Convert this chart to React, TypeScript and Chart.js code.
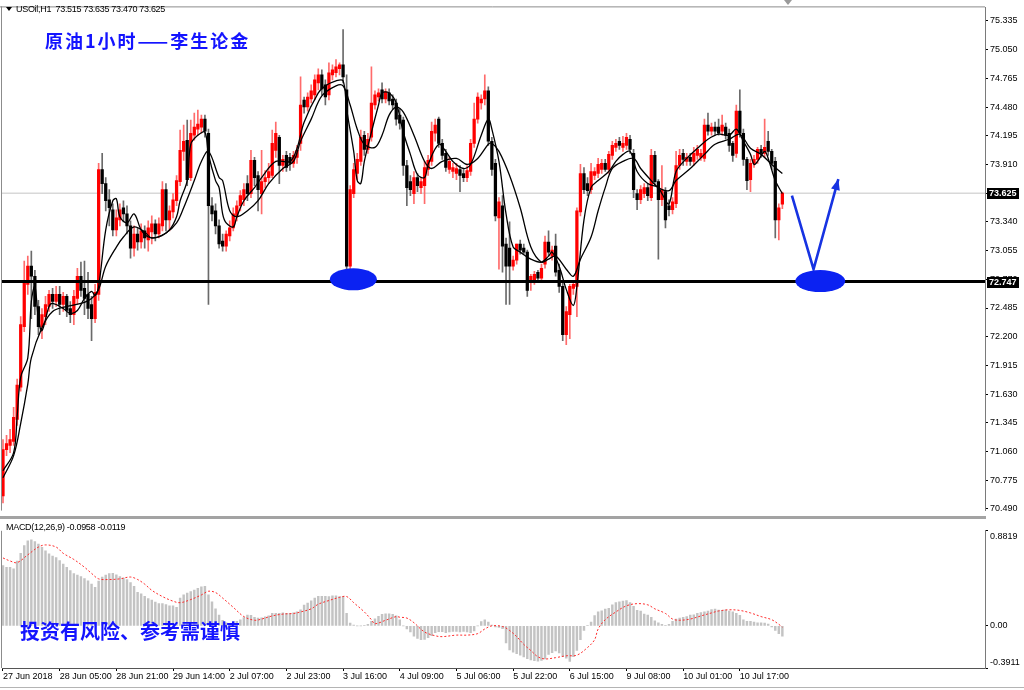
import React, { useEffect, useRef } from "react";
import { Chart, registerables } from "chart.js";

Chart.register(...registerables);

// ---------- price data (H1 candles) ----------
const opens = [
  70.62, 71.08, 71.12, 71.16, 71.38, 71.70, 72.30, 72.72, 72.90, 72.80,
  72.50, 72.30, 72.40, 72.50, 72.62, 72.55, 72.62, 72.52, 72.60, 72.48,
  72.42, 72.58, 72.80, 72.68, 72.62, 72.52, 72.38, 72.62, 73.86, 73.72,
  73.56, 73.46, 73.26, 73.36, 73.48, 73.42, 73.30, 73.08, 73.22, 73.14,
  73.25, 73.16, 73.24, 73.32, 73.22, 73.30, 73.66, 73.36, 73.44, 73.55,
  73.74, 74.04, 74.15, 73.78, 74.20, 74.26, 74.28, 74.36, 74.22, 73.50,
  73.45, 73.30, 73.15, 73.10, 73.20, 73.28, 73.40, 73.50, 73.56, 73.72,
  73.62, 73.95, 73.80, 73.62, 73.74, 73.78, 73.80, 74.05, 74.18, 73.90,
  74.00, 73.98, 73.92, 73.98, 74.12, 74.55, 74.48, 74.56, 74.60, 74.72,
  74.80, 74.70, 74.60, 74.80, 74.82, 74.86, 74.90, 74.65, 72.90, 73.62,
  73.82, 73.94, 74.20, 74.06, 74.18, 74.50, 74.58, 74.65, 74.56, 74.62,
  74.56, 74.52, 74.40, 74.35, 73.90, 73.74, 73.62, 73.78, 73.68, 73.70,
  73.86, 73.94, 74.22, 74.36, 74.12, 74.02, 73.86, 73.84, 73.82, 73.86,
  73.82, 73.78, 73.84, 74.12, 74.36, 74.52, 74.56, 74.64, 74.14, 73.92,
  73.38, 73.50, 73.12, 73.08, 72.90, 72.96, 73.12, 73.08, 73.04, 72.74,
  72.76, 72.84, 72.78, 72.92, 73.14, 73.00, 73.10, 72.86, 72.70, 72.22,
  72.42, 72.68, 72.70, 73.44, 73.82, 73.72, 73.66, 73.80, 73.82, 73.86,
  73.92, 73.86, 74.00, 74.08, 74.14, 74.08, 74.10, 74.16, 74.02, 73.62,
  73.56, 73.62, 73.68, 73.58, 74.00, 73.74, 73.56, 73.64, 73.50, 73.46,
  73.52, 73.90, 74.02, 73.94, 73.98, 73.94, 74.00, 73.98, 73.97, 74.30,
  74.24, 74.28, 74.28, 74.24, 74.28, 74.22, 74.12, 74.02, 74.44, 74.22,
  73.96, 73.76, 73.92, 73.96, 74.06, 74.02, 74.14, 74.04, 73.94, 73.36,
  73.515,
];
const highs = [
  71.18, 71.22, 71.28, 71.50, 71.78, 72.40, 72.95, 73.00, 73.05, 72.86,
  72.56, 72.48, 72.60, 72.66, 72.68, 72.70, 72.70, 72.64, 72.62, 72.55,
  72.66, 72.88, 72.94, 72.95, 72.84, 72.60, 72.72, 73.92, 74.02, 73.78,
  73.66, 73.52, 73.46, 73.52, 73.55, 73.50, 73.35, 73.30, 73.28, 73.32,
  73.30, 73.35, 73.40, 73.36, 73.38, 73.74, 73.72, 73.50, 73.62, 73.80,
  74.25, 74.30, 74.35, 74.35, 74.42, 74.45, 74.40, 74.40, 74.26, 73.58,
  73.52, 73.36, 73.22, 73.25, 73.35, 73.48, 73.55, 73.65, 73.72, 73.80,
  74.05, 73.98, 73.84, 74.05, 73.85, 73.92, 74.25, 74.33, 74.20, 74.00,
  74.04, 74.02, 74.04, 74.10, 74.78, 74.58, 74.62, 74.70, 74.80, 74.86,
  74.85, 74.75, 74.92, 74.90, 74.95, 74.92, 75.25, 74.80, 73.70, 73.92,
  74.02, 74.25, 74.24, 74.22, 74.88, 74.64, 74.66, 74.72, 74.66, 74.66,
  74.60, 74.56, 74.46, 74.38, 73.95, 73.80, 73.84, 73.82, 73.78, 73.94,
  74.00, 74.33, 74.36, 74.38, 74.16, 74.06, 73.98, 73.92, 73.92, 73.90,
  73.86, 73.90, 74.16, 74.52, 74.62, 74.60, 74.80, 74.68, 74.18, 73.96,
  73.58, 73.60, 73.18, 73.34, 73.00, 73.12, 73.16, 73.12, 73.06, 72.82,
  72.85, 72.86, 72.92, 73.20, 73.25, 73.10, 73.22, 72.92, 72.74, 72.50,
  72.72, 72.76, 73.48, 73.91, 73.88, 73.78, 73.92, 73.88, 73.97, 73.96,
  73.96, 74.04, 74.14, 74.16, 74.18, 74.19, 74.22, 74.20, 74.06, 73.66,
  73.70, 73.72, 73.72, 74.06, 74.04, 73.76, 73.90, 73.68, 73.56, 73.58,
  74.04, 74.06, 74.06, 74.02, 74.02, 74.08, 74.10, 74.06, 74.36, 74.42,
  74.32, 74.33, 74.36, 74.40, 74.32, 74.26, 74.14, 74.50, 74.65, 74.26,
  73.98, 73.96, 74.00, 74.08, 74.10, 74.36, 74.24, 74.06, 73.98, 73.52,
  73.635,
];
const lows = [
  70.55, 71.02, 71.05, 71.12, 71.32, 71.66, 72.25, 72.62, 72.38, 72.42,
  72.22, 72.18, 72.32, 72.45, 72.48, 72.50, 72.42, 72.45, 72.40, 72.34,
  72.32, 72.52, 72.60, 72.42, 72.38, 72.16, 72.34, 72.56, 73.62, 73.45,
  73.30, 73.20, 73.20, 73.30, 73.34, 73.22, 72.98, 73.00, 73.06, 73.08,
  73.08, 73.05, 73.12, 73.15, 73.18, 73.25, 73.25, 73.25, 73.38, 73.50,
  73.70, 73.95, 73.70, 73.75, 74.15, 74.20, 74.22, 74.18, 72.52, 73.35,
  73.22, 73.08, 73.05, 73.05, 73.15, 73.25, 73.35, 73.45, 73.50, 73.55,
  73.58, 73.70, 73.45, 73.42, 73.68, 73.72, 73.78, 73.98, 73.72, 73.84,
  73.84, 73.85, 73.88, 73.92, 74.05, 74.42, 74.44, 74.52, 74.55, 74.65,
  74.60, 74.50, 74.55, 74.75, 74.78, 74.80, 74.72, 72.85, 72.80, 73.58,
  73.76, 73.90, 74.00, 74.02, 74.14, 74.46, 74.54, 74.52, 74.52, 74.50,
  74.46, 74.30, 74.26, 73.80, 73.50, 73.60, 73.52, 73.64, 73.62, 73.52,
  73.80, 73.90, 74.14, 74.08, 73.96, 73.84, 73.82, 73.78, 73.76, 73.64,
  73.74, 73.74, 73.80, 74.08, 74.32, 74.46, 74.50, 74.10, 73.80, 73.35,
  72.87, 72.84, 72.52, 72.52, 72.86, 72.92, 73.02, 73.02, 72.60, 72.66,
  72.72, 72.74, 72.74, 72.88, 73.00, 72.96, 72.80, 72.64, 72.16, 72.12,
  72.18, 72.62, 72.40, 73.40, 73.62, 73.60, 73.62, 73.76, 73.78, 73.82,
  73.84, 73.82, 73.96, 74.04, 74.06, 74.04, 74.06, 74.02, 73.58, 73.46,
  73.52, 73.58, 73.55, 73.55, 73.70, 72.97, 73.50, 73.28, 73.40, 73.42,
  73.48, 73.86, 73.90, 73.90, 73.90, 73.90, 73.96, 73.95, 73.94, 74.20,
  74.20, 74.20, 74.20, 74.20, 74.16, 74.04, 73.94, 73.98, 74.18, 73.90,
  73.66, 73.64, 73.88, 73.92, 73.98, 73.98, 74.00, 73.86, 73.18, 73.16,
  73.47,
];
const closes = [
  71.08, 71.14, 71.18, 71.40, 71.72, 72.32, 72.74, 72.90, 72.80, 72.50,
  72.30, 72.42, 72.52, 72.62, 72.55, 72.62, 72.52, 72.60, 72.46, 72.42,
  72.60, 72.80, 72.66, 72.58, 72.48, 72.38, 72.64, 73.86, 73.72, 73.55,
  73.48, 73.26, 73.38, 73.46, 73.42, 73.30, 73.08, 73.22, 73.14, 73.25,
  73.18, 73.28, 73.32, 73.22, 73.32, 73.66, 73.36, 73.45, 73.56, 73.75,
  74.05, 74.14, 73.76, 74.22, 74.28, 74.31, 74.36, 74.24, 73.50, 73.42,
  73.30, 73.12, 73.10, 73.22, 73.28, 73.42, 73.50, 73.60, 73.66, 73.62,
  73.95, 73.78, 73.66, 73.74, 73.78, 73.84, 74.12, 74.22, 73.90, 73.96,
  73.88, 73.92, 74.00, 74.05, 74.50, 74.48, 74.58, 74.64, 74.75, 74.80,
  74.66, 74.58, 74.82, 74.85, 74.88, 74.90, 74.78, 72.90, 73.66, 73.86,
  73.96, 74.18, 74.06, 74.16, 74.52, 74.60, 74.62, 74.56, 74.63, 74.54,
  74.50, 74.36, 74.32, 73.90, 73.68, 73.66, 73.78, 73.70, 73.74, 73.88,
  73.95, 74.24, 74.30, 74.12, 74.00, 73.88, 73.94, 73.88, 73.87, 73.80,
  73.78, 73.85, 74.12, 74.36, 74.58, 74.56, 74.64, 74.14, 73.86, 73.40,
  73.54, 73.10, 72.90, 72.90, 72.96, 73.12, 73.06, 73.04, 72.66, 72.80,
  72.82, 72.78, 72.88, 73.14, 73.04, 73.06, 72.84, 72.70, 72.22, 72.45,
  72.70, 72.72, 73.45, 73.82, 73.66, 73.65, 73.84, 73.84, 73.91, 73.92,
  73.86, 74.01, 74.10, 74.12, 74.10, 74.12, 74.18, 74.06, 73.66, 73.56,
  73.66, 73.68, 73.60, 74.00, 73.74, 73.56, 73.66, 73.36, 73.46, 73.54,
  73.90, 74.00, 73.96, 73.98, 73.94, 74.02, 74.06, 74.02, 74.30, 74.24,
  74.28, 74.24, 74.22, 74.30, 74.20, 74.10, 74.00, 74.44, 74.22, 73.96,
  73.75, 73.92, 73.96, 74.06, 74.02, 74.08, 74.04, 73.92, 73.36, 73.48,
  73.625,
];

// ---------- moving averages ----------
const maFastIdx = [0,3,4,5,7,8,9,10,11,13,14,17,19,21,23,25,26,27,29,31,32,33,35,37,39,41,44,47,49,50,52,53,55,57,58,60,61,62,63,65,66,68,71,73,77,81,83,85,89,91,94,96,97,99,100,101,102,104,106,107,109,111,113,115,117,119,120,123,125,127,130,132,135,137,138,140,142,144,146,149,152,154,155,157,159,161,162,164,166,168,171,173,175,177,179,182,185,186,188,190,193,196,199,202,205,207,209,211,212,213,215,216,218,220];
const maFastVal = [70.87,71.05,71.41,71.80,71.99,72.55,72.70,72.38,72.26,72.50,72.53,72.48,72.43,72.46,72.58,72.65,72.61,72.70,73.26,73.55,73.57,73.39,73.33,73.42,73.26,73.19,73.19,73.26,73.39,73.55,73.75,74.11,74.20,74.23,74.01,73.75,73.68,73.42,73.33,73.29,73.39,73.55,73.68,73.78,73.94,73.94,74.07,74.33,74.62,74.69,74.74,74.74,74.46,74.04,73.75,73.72,73.94,74.23,74.50,74.62,74.62,74.52,74.23,74.01,73.81,73.78,73.91,74.11,74.04,73.94,73.87,73.91,74.20,74.36,74.26,73.94,73.42,73.09,73.04,72.97,72.94,73.00,73.04,72.90,72.67,72.51,72.70,73.36,73.68,73.75,73.84,73.94,74.01,74.04,73.84,73.72,73.68,73.62,73.52,73.84,73.97,74.07,74.16,74.21,74.20,74.26,74.14,74.01,73.91,73.94,74.04,73.97,73.75,73.62];
const maSlowIdx = [0,3,5,7,8,11,14,18,22,25,27,29,32,34,37,40,42,46,49,51,54,56,58,61,62,64,66,69,72,75,79,82,84,87,90,94,96,98,100,102,105,107,109,111,113,116,119,121,124,128,131,134,137,138,140,143,146,149,152,154,156,159,161,163,166,168,170,172,175,178,180,183,185,188,190,194,198,201,205,208,211,214,217,220];
const maSlowVal = [70.80,71.02,71.34,71.73,71.99,72.29,72.45,72.50,72.53,72.58,72.67,72.90,73.09,73.19,73.29,73.24,73.18,73.23,73.33,73.48,73.75,73.94,74.04,73.78,73.75,73.45,73.39,73.45,73.55,73.72,73.87,73.94,74.14,74.36,74.59,74.69,74.69,74.50,74.26,74.11,74.08,74.20,74.40,74.48,74.43,74.20,73.94,73.87,73.94,73.97,73.91,73.97,74.11,74.12,74.04,73.80,73.48,73.09,72.94,72.97,73.00,72.87,72.80,72.97,73.19,73.45,73.68,73.87,73.94,73.97,73.87,73.75,73.68,73.65,73.75,73.87,74.01,74.11,74.16,74.21,74.07,74.01,73.91,73.82];

// ---------- MACD(12,26,9) ----------
const macdHist = [
  0.559, 0.544, 0.544, 0.530, 0.602, 0.673, 0.745, 0.788, 0.797, 0.782,
  0.759, 0.728, 0.696, 0.668, 0.648, 0.633, 0.605, 0.573, 0.544, 0.513,
  0.484, 0.470, 0.456, 0.438, 0.418, 0.387, 0.358, 0.415, 0.453, 0.470,
  0.484, 0.487, 0.473, 0.458, 0.444, 0.430, 0.401, 0.367, 0.312, 0.298,
  0.275, 0.252, 0.238, 0.221, 0.206, 0.206, 0.198, 0.186, 0.186, 0.172,
  0.258, 0.287, 0.304, 0.318, 0.332, 0.347, 0.361, 0.367, 0.287, 0.223,
  0.158, 0.100, 0.052, 0.029, 0.014, 0.029, 0.043, 0.057, 0.077, 0.100,
  0.097, 0.080, 0.072, 0.074, 0.083, 0.092, 0.115, 0.115, 0.115, 0.120,
  0.115, 0.115, 0.120, 0.129, 0.149, 0.192, 0.212, 0.232, 0.258, 0.275,
  0.275, 0.275, 0.272, 0.278, 0.278, 0.272, 0.272, 0.115, 0.026, 0.006,
  0.000, 0.000, 0.003, 0.014, 0.043, 0.066, 0.089, 0.106, 0.112, 0.112,
  0.106, 0.092, 0.057, 0.000, -0.029, -0.057, -0.095, -0.117, -0.129, -0.126,
  -0.109, -0.092, -0.063, -0.054, -0.054, -0.063, -0.057, -0.052, -0.052, -0.057,
  -0.052, -0.057, -0.063, -0.046, 0.000, 0.040, 0.057, 0.034, 0.006, -0.011,
  -0.014, -0.026, -0.158, -0.223, -0.244, -0.258, -0.272, -0.289, -0.304, -0.315,
  -0.324, -0.327, -0.321, -0.307, -0.266, -0.249, -0.232, -0.252, -0.284, -0.301,
  -0.330, -0.287, -0.229, -0.129, -0.043, 0.003, 0.034, 0.095, 0.129, 0.140,
  0.155, 0.163, 0.195, 0.215, 0.223, 0.229, 0.235, 0.215, 0.181, 0.143,
  0.138, 0.109, 0.100, 0.080, 0.046, 0.029, 0.014, 0.003, 0.014, 0.043,
  0.063, 0.072, 0.080, 0.086, 0.100, 0.103, 0.115, 0.123, 0.129, 0.138,
  0.152, 0.155, 0.146, 0.143, 0.149, 0.138, 0.129, 0.115, 0.097, 0.057,
  0.043, 0.043, 0.034, 0.029, 0.029, 0.026, 0.017, -0.009, -0.043, -0.072,
  -0.0958,
];
const signalIdx = [0,2,4,7,10,12,15,17,20,23,25,27,30,33,36,38,40,42,45,48,50,53,56,58,60,62,65,68,71,73,76,79,82,84,87,89,92,95,97,99,102,104,105,108,111,112,114,116,119,122,124,128,131,134,136,138,141,143,145,147,149,151,153,156,159,162,165,167,168,170,173,176,179,182,184,187,189,191,194,197,200,202,205,208,211,214,217,219,220];
const signalVal = [0.630,0.602,0.587,0.659,0.731,0.751,0.731,0.673,0.616,0.544,0.487,0.436,0.430,0.436,0.453,0.430,0.387,0.330,0.272,0.229,0.215,0.244,0.287,0.321,0.309,0.258,0.172,0.086,0.052,0.063,0.092,0.109,0.115,0.129,0.158,0.201,0.235,0.264,0.272,0.215,0.129,0.057,0.020,0.052,0.086,0.080,0.072,0.029,-0.057,-0.092,-0.100,-0.086,-0.086,-0.072,-0.029,0.000,-0.006,-0.043,-0.100,-0.172,-0.229,-0.287,-0.307,-0.295,-0.278,-0.272,-0.201,-0.129,-0.029,0.057,0.129,0.186,0.206,0.195,0.158,0.115,0.063,0.052,0.063,0.092,0.120,0.138,0.149,0.143,0.120,0.086,0.057,0.014,-0.012];

// ---------- axes ----------
const priceTicks = [75.335, 75.05, 74.765, 74.48, 74.195, 73.91, 73.625, 73.34, 73.055, 72.77, 72.485, 72.2, 71.915, 71.63, 71.345, 71.06, 70.775, 70.49];
const macdTicks = [0.8819, 0, -0.3911];
const macdTickLabels = ["0.8819", "0.00", "-0.3911"];
const timeTickIdx = [0, 16, 32, 48, 64, 80, 96, 112, 128, 144, 160, 176, 192, 208];
const timeLabels = ["27 Jun 2018", "28 Jun 05:00", "28 Jun 21:00", "29 Jun 14:00", "2 Jul 07:00", "2 Jul 23:00", "3 Jul 16:00", "4 Jul 09:00", "5 Jul 06:00", "5 Jul 22:00", "6 Jul 15:00", "9 Jul 08:00", "10 Jul 01:00", "10 Jul 17:00"];

// ---------- annotations ----------
const currentPrice = 73.625;
const supportLevel = 72.747;
const ellipseIdx = [98.9, 230.7];
const ellipsePrice = [72.77, 72.752];
const arrowIdx = [222.7, 228.8, 235.8];
const arrowPrice = [73.6, 72.87, 73.765];

const X_MIN = -0.28;
const X_MAX = 277.2;
const TICK_FONT = { family: "'Liberation Sans', Arial, sans-serif", size: 9 };

const mainDeco = {
  id: "mainDeco",
  afterDatasetsDraw(chart: any) {
    const { ctx, chartArea: a, scales } = chart;
    const xs = scales.x, ys = scales.y;
    ctx.save();
    ctx.beginPath();
    ctx.rect(a.left, a.top, a.right - a.left, a.bottom - a.top);
    ctx.clip();
    ctx.fillStyle = "#0b22f2";
    const rx = [23.5, 25];
    for (let k = 0; k < ellipseIdx.length; k++) {
      const cx = xs.getPixelForValue(ellipseIdx[k]);
      const cy = ys.getPixelForValue(ellipsePrice[k]);
      ctx.beginPath();
      ctx.ellipse(cx, cy, rx[k], 11, 0, 0, Math.PI * 2);
      ctx.fill();
    }
    const n = arrowIdx.length;
    const x1 = xs.getPixelForValue(arrowIdx[n - 2]);
    const y1 = ys.getPixelForValue(arrowPrice[n - 2]);
    const x2 = xs.getPixelForValue(arrowIdx[n - 1]);
    const y2 = ys.getPixelForValue(arrowPrice[n - 1]);
    const ang = Math.atan2(y2 - y1, x2 - x1);
    const L = 11, W = 4.5;
    const bx = x2 - L * Math.cos(ang), by = y2 - L * Math.sin(ang);
    ctx.fillStyle = "#1733e2";
    ctx.beginPath();
    ctx.moveTo(x2, y2);
    ctx.lineTo(bx + W * Math.sin(ang), by - W * Math.cos(ang));
    ctx.lineTo(bx - W * Math.sin(ang), by + W * Math.cos(ang));
    ctx.closePath();
    ctx.fill();
    ctx.restore();
  },
  afterDraw(chart: any) {
    const { ctx, chartArea: a, scales } = chart;
    const ys = scales.y;
    ctx.save();
    ctx.strokeStyle = "#8c8c8c";
    ctx.lineWidth = 1;
    ctx.beginPath();
    ctx.moveTo(0, a.top - 0.5);
    ctx.lineTo(a.right, a.top - 0.5);
    ctx.moveTo(a.left - 0.5, a.top - 1);
    ctx.lineTo(a.left - 0.5, a.bottom);
    ctx.stroke();
    [currentPrice, supportLevel].forEach((v) => {
      const y = ys.getPixelForValue(v);
      ctx.fillStyle = "#000";
      ctx.fillRect(a.right + 2, Math.round(y) - 5, 32, 11);
      ctx.fillStyle = "#fff";
      ctx.font = "bold 9px 'Liberation Sans', Arial, sans-serif";
      ctx.textBaseline = "middle";
      ctx.textAlign = "left";
      ctx.fillText(v.toFixed(3), a.right + 4, Math.round(y) + 0.5);
    });
    ctx.restore();
  },
};

const macdDeco = {
  id: "macdDeco",
  afterDraw(chart: any) {
    const { ctx, chartArea: a } = chart;
    ctx.save();
    ctx.strokeStyle = "#8c8c8c";
    ctx.lineWidth = 1;
    ctx.beginPath();
    ctx.moveTo(a.left - 0.5, a.top);
    ctx.lineTo(a.left - 0.5, a.bottom);
    ctx.stroke();
    ctx.restore();
  },
};

function buildMain(canvas: HTMLCanvasElement) {
  const idx = closes.map((_, i) => i);
  const up = idx.map((i) => closes[i] >= opens[i]);
  return new Chart(canvas, {
    type: "bar",
    data: {
      datasets: [
        {
          type: "line",
          data: [{ x: X_MIN, y: currentPrice }, { x: X_MAX, y: currentPrice }],
          borderColor: "#c4c4c4",
          borderWidth: 1,
          pointRadius: 0,
          order: 12,
        } as any,
        {
          type: "bar",
          data: idx.map((i) => ({ x: i, y: [lows[i], highs[i]] })),
          backgroundColor: up.map((u) => (u ? "#ff6b6b" : "#6a6a6a")),
          barThickness: 1,
          grouped: false,
          order: 10,
        },
        {
          type: "bar",
          data: idx.map((i) => ({ x: i, y: [opens[i], closes[i]] })),
          backgroundColor: up.map((u) => (u ? "#ff0000" : "#000000")),
          barThickness: 2.6,
          minBarLength: 1,
          grouped: false,
          order: 9,
        },
        {
          type: "line",
          data: maSlowIdx.map((x, k) => ({ x, y: maSlowVal[k] })),
          borderColor: "#000",
          borderWidth: 1.3,
          pointRadius: 0,
          tension: 0.35,
          order: 6,
        },
        {
          type: "line",
          data: maFastIdx.map((x, k) => ({ x, y: maFastVal[k] })),
          borderColor: "#000",
          borderWidth: 1.3,
          pointRadius: 0,
          tension: 0.35,
          order: 5,
        },
        {
          type: "line",
          data: [{ x: X_MIN, y: supportLevel }, { x: X_MAX, y: supportLevel }],
          borderColor: "#000",
          borderWidth: 3,
          pointRadius: 0,
          order: 4,
        },
        {
          type: "line",
          data: arrowIdx.map((x, k) => ({ x, y: arrowPrice[k] })),
          borderColor: "#1733e2",
          borderWidth: 2.6,
          pointRadius: 0,
          tension: 0,
          order: 1,
        },
      ] as any,
    },
    options: {
      responsive: false,
      animation: false,
      events: [],
      layout: { padding: { left: 2, top: 3, bottom: 2, right: 0 } },
      plugins: { legend: { display: false }, tooltip: { enabled: false } },
      scales: {
        x: { type: "linear", min: X_MIN, max: X_MAX, display: false, offset: false, grid: { offset: false } },
        y: {
          type: "linear",
          position: "right",
          min: 70.474,
          max: 75.469,
          beginAtZero: false,
          afterBuildTicks: (s: any) => {
            s.ticks = priceTicks.map((v) => ({ value: v }));
          },
          afterFit: (s: any) => {
            s.width = 39;
          },
          ticks: {
            autoSkip: false,
            padding: 2,
            color: "#000",
            font: TICK_FONT,
            callback: (v: any) => Number(v).toFixed(3),
          },
          grid: { drawOnChartArea: false, drawTicks: true, tickLength: 3, color: "#000" },
          border: { display: true, color: "#7a7a7a" },
        },
      },
    } as any,
    plugins: [mainDeco],
  });
}

function buildMacd(canvas: HTMLCanvasElement) {
  const idx = macdHist.map((_, i) => i);
  return new Chart(canvas, {
    type: "bar",
    data: {
      datasets: [
        {
          type: "bar",
          data: idx.map((i) => ({ x: i, y: macdHist[i] })),
          backgroundColor: "#c3c3c3",
          barThickness: 1.8,
          grouped: false,
          order: 2,
        },
        {
          type: "line",
          data: signalIdx.map((x, k) => ({ x, y: signalVal[k] })),
          borderColor: "#ff2a2a",
          borderWidth: 1,
          borderDash: [2, 2],
          pointRadius: 0,
          tension: 0.35,
          order: 1,
        },
      ] as any,
    },
    options: {
      responsive: false,
      animation: false,
      events: [],
      layout: { padding: { left: 2, top: 2, bottom: 0, right: 0 } },
      plugins: { legend: { display: false }, tooltip: { enabled: false } },
      scales: {
        x: {
          type: "linear",
          min: X_MIN,
          max: X_MAX,
          offset: false,
          position: "bottom",
          afterBuildTicks: (s: any) => {
            s.ticks = timeTickIdx.map((v) => ({ value: v }));
          },
          afterFit: (s: any) => {
            s.height = 22;
          },
          ticks: {
            autoSkip: false,
            maxRotation: 0,
            minRotation: 0,
            align: "start",
            padding: 0,
            color: "#000",
            font: TICK_FONT,
            callback: (_v: any, k: number) => timeLabels[k],
          },
          grid: { offset: false, drawOnChartArea: false, drawTicks: true, tickLength: 3, color: "#000" },
          border: { display: true, color: "#555" },
        },
        y: {
          type: "linear",
          position: "right",
          min: -0.3911,
          max: 0.8819,
          beginAtZero: false,
          afterBuildTicks: (s: any) => {
            s.ticks = macdTicks.map((v) => ({ value: v }));
          },
          afterFit: (s: any) => {
            s.width = 39;
          },
          ticks: {
            autoSkip: false,
            padding: 2,
            color: "#000",
            font: TICK_FONT,
            callback: (_v: any, k: number) =>
              k === 0 ? ["", macdTickLabels[0]] : k === macdTicks.length - 1 ? [macdTickLabels[k], ""] : macdTickLabels[k],
          },
          grid: { drawOnChartArea: false, drawTicks: true, tickLength: 3, color: "#000" },
          border: { display: true, color: "#7a7a7a" },
        },
      },
    } as any,
    plugins: [macdDeco],
  });
}

export default function App() {
  const mainRef = useRef<HTMLCanvasElement>(null);
  const macdRef = useRef<HTMLCanvasElement>(null);

  useEffect(() => {
    const c1 = buildMain(mainRef.current as HTMLCanvasElement);
    const c2 = buildMacd(macdRef.current as HTMLCanvasElement);
    return () => {
      c1.destroy();
      c2.destroy();
    };
  }, []);

  const small: React.CSSProperties = {
    position: "absolute",
    fontFamily: "'Liberation Sans', Arial, sans-serif",
    fontSize: 9,
    lineHeight: "10px",
    letterSpacing: "-0.3px",
    color: "#000",
    whiteSpace: "pre",
  };
  const cjk: React.CSSProperties = {
    position: "absolute",
    fontFamily: "'Noto Sans CJK SC', sans-serif",
    fontWeight: 700,
    color: "#1414ff",
    whiteSpace: "pre",
  };

  return (
    <div style={{ position: "absolute", left: 0, top: 0, width: 1024, height: 690, background: "#fff", overflow: "hidden" }}>
      <canvas ref={mainRef} width={1024} height={518} style={{ position: "absolute", left: 0, top: 0, width: 1024, height: 518 }} />
      <canvas ref={macdRef} width={1024} height={172} style={{ position: "absolute", left: 0, top: 518, width: 1024, height: 172 }} />
      <div style={{ position: "absolute", left: 0, top: 516, width: 986, height: 3, background: "#a3a3a3" }} />
      <div style={{ position: "absolute", left: 0, top: 687, width: 1024, height: 1, background: "#b4b4b4" }} />
      <div
        style={{
          position: "absolute",
          left: 784,
          top: 0,
          width: 0,
          height: 0,
          borderLeft: "4px solid transparent",
          borderRight: "4px solid transparent",
          borderTop: "5px solid #9a9a9a",
        }}
      />
      <div
        style={{
          position: "absolute",
          left: 6,
          top: 7,
          width: 0,
          height: 0,
          borderLeft: "3px solid transparent",
          borderRight: "3px solid transparent",
          borderTop: "4px solid #000",
        }}
      />
      <div style={{ ...small, left: 16, top: 4 }}>{"USOil,H1  73.515 73.635 73.470 73.625"}</div>
      <div style={{ ...cjk, left: 45, top: 30, fontSize: 18, lineHeight: "20px", letterSpacing: "2px" }}>原油1小时——李生论金</div>
      <div style={{ ...small, left: 6, top: 522 }}>{"MACD(12,26,9) -0.0958 -0.0119"}</div>
      <div style={{ ...cjk, left: 20, top: 620, fontSize: 20, lineHeight: "22px" }}>投资有风险、参考需谨慎</div>
    </div>
  );
}
